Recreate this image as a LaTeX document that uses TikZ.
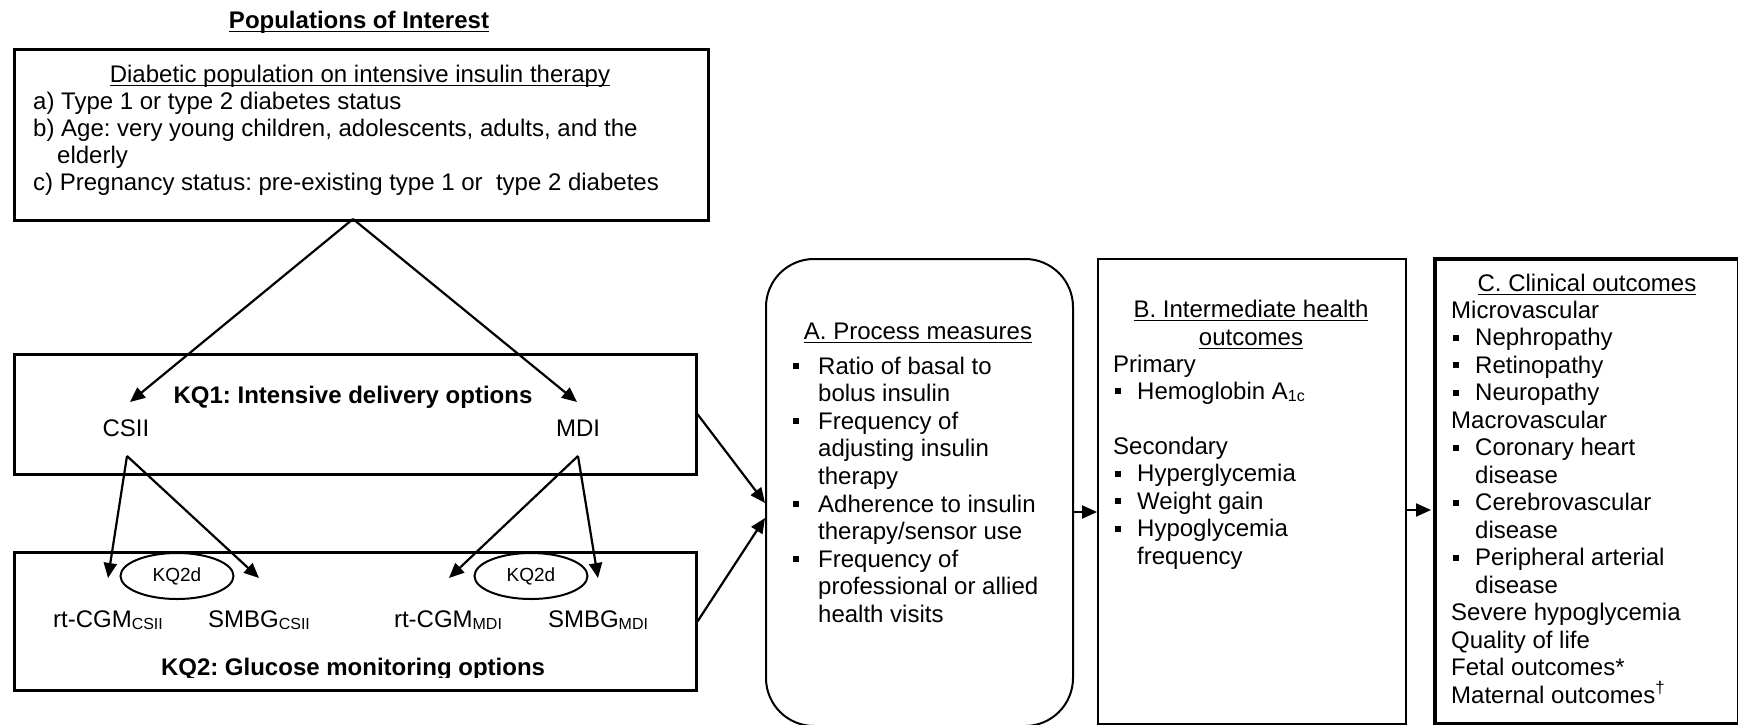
\documentclass[tikz,border=0pt]{standalone}
\usepackage{fontspec}
\setmainfont{Liberation Sans}
\usetikzlibrary{arrows.meta,shapes.geometric}
\newsavebox{\ulbox}
\newcommand{\ulin}[1]{\sbox{\ulbox}{#1}\rlap{\rule[-4pt]{\wd\ulbox}{1.5pt}}\usebox{\ulbox}}
\newcommand{\bla}{\makebox[25pt][l]{\rule[5pt]{6pt}{6pt}}}
\newcommand{\blc}{\makebox[22pt][l]{\rule[5pt]{6pt}{6pt}}}
\newcommand{\subx}[1]{\raisebox{-2.5pt}{\fontsize{16}{16}\selectfont #1}}
\frenchspacing
\begin{document}
\frenchspacing
\begin{tikzpicture}[x=1pt,y=-1pt,
  txt/.style={inner sep=0pt, font=\fontsize{24}{27.5}\selectfont},
  ttl/.style={inner sep=0pt, font=\fontsize{24}{27.5}\selectfont\bfseries},
  box/.style={draw, line width=2.6pt, inner sep=0pt, anchor=north west},
  arr/.style={line width=2.2pt, -{Triangle[length=15pt,width=13pt]}},
  oval/.style={draw, ellipse, line width=2pt, inner sep=0pt, minimum width=113pt, minimum height=46pt, font=\fontsize{19}{19}\selectfont},
]
\useasboundingbox (0,0) rectangle (1738,724);

% ---------- boxes
\node[box, minimum width=694pt, minimum height=171pt] (pop) at (13,48) {};
\node[box, minimum width=682pt, minimum height=120pt] (kq1) at (13,353) {};
\node[box, minimum width=682pt, minimum height=138pt] (kq2) at (13,551) {};
\node[draw, line width=2pt, rounded corners=48pt, inner sep=0pt, anchor=north west,
      minimum width=307pt, minimum height=467pt] (pm) at (765,258) {};
\node[draw, line width=1.5pt, inner sep=0pt, anchor=north west,
      minimum width=308pt, minimum height=465pt] (io) at (1097,258) {};
\node[draw, line width=4pt, inner sep=0pt, anchor=north west,
      minimum width=304pt, minimum height=465pt] (co) at (1433,257) {};

% ---------- populations
\node[ttl, anchor=base] (title) at (359,28) {\ulin{Populations of Interest}};
\node[txt, anchor=base] (poph) at (360,82) {\ulin{Diabetic population on intensive insulin therapy}};
\node[txt, anchor=base west] (popa) at (33,109) {a) Type 1 or type 2 diabetes status};
\node[txt, anchor=base west] (popb) at (33,136) {b) Age: very young children, adolescents, adults, and the};
\node[txt, anchor=base west] (popb2) at (57,163) {elderly};
\node[txt, anchor=base west] (popc) at (33,190) {c) Pregnancy status: pre-existing type 1 or~ type 2 diabetes};

% ---------- KQ1
\node[ttl, anchor=base] (kq1t) at (353,403) {KQ1: Intensive delivery options};
\node[txt, anchor=base] (csii) at (126,436) {CSII};
\node[txt, anchor=base] (mdi) at (578,436) {MDI};

% ---------- KQ2
\node[oval] (e1) at (177,576) {KQ2d};
\node[oval] (e2) at (531,576) {KQ2d};
\node[txt, anchor=base] (cgm1) at (108,627) {rt-CGM\subx{CSII}};
\node[txt, anchor=base] (smbg1) at (259,627) {SMBG\subx{CSII}};
\node[txt, anchor=base] (cgm2) at (448,627) {rt-CGM\subx{MDI}};
\node[txt, anchor=base] (smbg2) at (598,627) {SMBG\subx{MDI}};
\begin{scope}
\clip (13,551) rectangle (695,677);
\node[ttl, anchor=base] (kq2t) at (353,675) {KQ2: Glucose monitoring options};
\end{scope}

% ---------- A. Process measures
\node[txt, anchor=base] (pmt) at (918,339) {\ulin{A. Process measures}};
\node[txt, anchor=base west] (a1) at (793,374) {\bla Ratio of basal to};
\node[txt, anchor=base west] (a2) at (818,401.6) {bolus insulin};
\node[txt, anchor=base west] (a3) at (793,429.2) {\bla Frequency of};
\node[txt, anchor=base west] (a4) at (818,456.8) {adjusting insulin};
\node[txt, anchor=base west] (a5) at (818,484.4) {therapy};
\node[txt, anchor=base west] (a6) at (793,512) {\bla Adherence to insulin};
\node[txt, anchor=base west] (a7) at (818,539.6) {therapy/sensor use};
\node[txt, anchor=base west] (a8) at (793,567.2) {\bla Frequency of};
\node[txt, anchor=base west] (a9) at (818,594.8) {professional or allied};
\node[txt, anchor=base west] (a10) at (818,622.4) {health visits};

% ---------- B. Intermediate
\node[txt, anchor=base] (iot1) at (1251,317) {\ulin{B. Intermediate health}};
\node[txt, anchor=base] (iot2) at (1251,345) {\ulin{outcomes}};
\node[txt, anchor=base west] (b1) at (1113,372) {Primary};
\node[txt, anchor=base west] (b2) at (1115,399) {\blc Hemoglobin A\subx{1c}};
\node[txt, anchor=base west] (b3) at (1113,454) {Secondary};
\node[txt, anchor=base west] (b4) at (1115,481.5) {\blc Hyperglycemia};
\node[txt, anchor=base west] (b5) at (1115,509) {\blc Weight gain};
\node[txt, anchor=base west] (b6) at (1115,536.5) {\blc Hypoglycemia};
\node[txt, anchor=base west] (b7) at (1137,564) {frequency};

% ---------- C. Clinical
\node[txt, anchor=base] (cot) at (1587,291) {\ulin{C. Clinical outcomes}};
\node[txt, anchor=base west] (c1) at (1451,318) {Microvascular};
\node[txt, anchor=base west] (c2) at (1453,345.5) {\blc Nephropathy};
\node[txt, anchor=base west] (c3) at (1453,373) {\blc Retinopathy};
\node[txt, anchor=base west] (c4) at (1453,400.5) {\blc Neuropathy};
\node[txt, anchor=base west] (c5) at (1451,428) {Macrovascular};
\node[txt, anchor=base west] (c6) at (1453,455.5) {\blc Coronary heart};
\node[txt, anchor=base west] (c7) at (1475,483) {disease};
\node[txt, anchor=base west] (c8) at (1453,510.5) {\blc Cerebrovascular};
\node[txt, anchor=base west] (c9) at (1475,538) {disease};
\node[txt, anchor=base west] (c10) at (1453,565.5) {\blc Peripheral arterial};
\node[txt, anchor=base west] (c11) at (1475,593) {disease};
\node[txt, anchor=base west] (c12) at (1451,620.5) {Severe hypoglycemia};
\node[txt, anchor=base west] (c13) at (1451,648) {Quality of life};
\node[txt, anchor=base west] (c14) at (1451,675.5) {Fetal outcomes*};
\node[txt, anchor=base west] (c15) at (1451,703) {Maternal outcomes\textsuperscript{†}};

% ---------- connector end points
\coordinate (apex) at (353,219);
\coordinate (csiiIn) at (130,402);
\coordinate (mdiIn) at (577,402);
\coordinate (csiiOut) at (127,456);
\coordinate (mdiOut) at (578,456);
\coordinate (t1) at (108,578);
\coordinate (t2) at (259,578);
\coordinate (t3) at (449,578);
\coordinate (t4) at (598,578);
\coordinate (aIn1) at (765,503);
\coordinate (aIn2) at (765,518);
\coordinate (aOut) at (1072,512);
\coordinate (bIn) at (1097,512);
\coordinate (bOut) at (1405,510);
\coordinate (cIn) at (1431,510);

% ---------- connectors
\draw[arr] (apex) -- (csiiIn);
\draw[arr] (apex) -- (mdiIn);
\draw[arr] (csiiOut) -- (t1);
\draw[arr] (csiiOut) -- (t2);
\draw[arr] (mdiOut) -- (t3);
\draw[arr] (mdiOut) -- (t4);
\draw[arr] (kq1.east) -- (aIn1);
\draw[arr] (kq2.east) -- (aIn2);
\draw[arr] (aOut) -- (bIn);
\draw[arr] (bOut) -- (cIn);
\end{tikzpicture}
\end{document}
